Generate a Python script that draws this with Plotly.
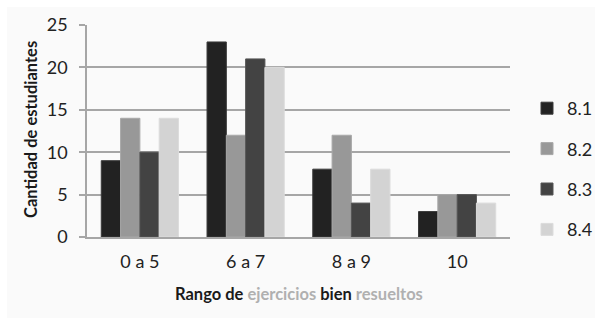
import plotly.graph_objects as go

categories = ["0 a 5", "6 a 7", "8 a 9", "10"]
series_names = ["8.1", "8.2", "8.3", "8.4"]
v81 = [9, 23, 8, 3]
v82 = [14, 12, 12, 5]
v83 = [10, 21, 4, 5]
v84 = [14, 20, 8, 4]
series_values = [v81, v82, v83, v84]
y_ticks = [0, 5, 10, 15, 20, 25]

colors = ["#222222", "#989898", "#434343", "#d3d3d3"]
edges = ["#3a3a3a", "#a8a8a8", "#555555", "#dcdcdc"]

W, H = 595, 318
ml, mr, mt, mb = 87, 85, 25, 81
pw, ph = W - ml - mr, H - mt - mb

fig = go.Figure()
for name, vals, c, e in zip(series_names, series_values, colors, edges):
    fig.add_trace(go.Bar(
        x=categories, y=vals, name=name, legendgroup=name,
        marker=dict(color=c, line=dict(color=e, width=1)),
    ))

def px_x(x):
    return (x - ml) / pw

def px_y(y):
    return (H - mb - y) / ph

font = "Lato, 'Open Sans', sans-serif"

fig.update_layout(
    width=W, height=H,
    margin=dict(l=ml, r=mr, t=mt, b=mb, autoexpand=False),
    paper_bgcolor="#fafafa", plot_bgcolor="#fafafa",
    barmode="group", bargap=0.27, bargroupgap=0,
    font=dict(family=font, size=18, color="#222222"),
    showlegend=True,
    legend=dict(
        x=px_x(527), xanchor="left", y=px_y(90), yanchor="top",
        font=dict(size=18, color="#222222"),
        tracegroupgap=14, bgcolor="rgba(0,0,0,0)",
        itemclick=False,
    ),
    xaxis=dict(
        automargin=False,
        showgrid=False, showline=True, linecolor="#a6a6a6", linewidth=2,
        ticks="", tickfont=dict(size=18, color="#222222"), ticklabelstandoff=7,
    ),
    yaxis=dict(
        automargin=False,
        range=[0, 25], tickvals=y_ticks, showgrid=True, gridcolor="#a6a6a6", gridwidth=2,
        showline=True, linecolor="#a6a6a6", linewidth=1.5,
        ticks="outside", ticklen=6, tickcolor="#a6a6a6", tickwidth=1.5,
        tickfont=dict(size=18, color="#222222"), ticklabelstandoff=8,
        zeroline=False,
    ),
    annotations=[
        dict(text="<b>Rango de <span style='color:#b0b0b0'>ejercicios</span> bien "
                  "<span style='color:#b0b0b0'>resueltos</span></b>",
             xref="paper", yref="paper", x=0.5, y=px_y(294),
             xanchor="center", yanchor="middle", showarrow=False,
             font=dict(size=16.5, color="#1a1a1a")),
        dict(text="<b>Cantidad de estudiantes</b>",
             xref="paper", yref="paper", x=px_x(31), y=px_y(130),
             xanchor="center", yanchor="middle", showarrow=False, textangle=-90,
             font=dict(size=16.5, color="#1a1a1a")),
    ],
    shapes=[
        dict(type="rect", xref="paper", yref="paper", x0=px_x(0), x1=px_x(W),
             y0=px_y(7), y1=px_y(0), fillcolor="white", line=dict(width=0), layer="below"),
        dict(type="rect", xref="paper", yref="paper", x0=px_x(0), x1=px_x(7),
             y0=px_y(H), y1=px_y(0), fillcolor="white", line=dict(width=0), layer="below"),
    ],
)

fig.write_html("out.html", config={"displayModeBar": False},
               post_script="document.body.style.margin='0';")
